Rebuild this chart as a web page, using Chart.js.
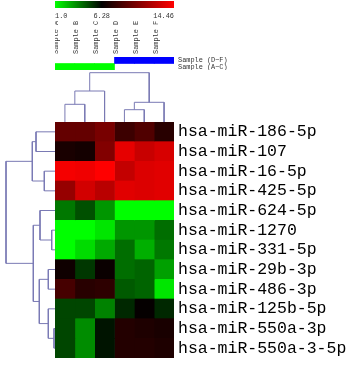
<!DOCTYPE html>
<html><head><meta charset="utf-8">
<script src="https://cdn.jsdelivr.net/npm/chart.js@4/dist/chart.umd.min.js"></script>
<style>
html,body{margin:0;padding:0;background:#fff;}
#wrap{position:relative;width:356px;height:371px;overflow:hidden;background:#fff;}
canvas{position:absolute;}
</style></head><body>
<div id="wrap">
<canvas id="cbar" width="119" height="20" style="left:55px;top:1px"></canvas>
<canvas id="grp" width="301" height="62" style="left:55px;top:8px"></canvas>
<canvas id="cden" width="119" height="52" style="left:55px;top:70px"></canvas>
<canvas id="rden" width="55" height="236" style="left:0px;top:122px"></canvas>
<canvas id="heat" width="301" height="236" style="left:55px;top:122px"></canvas>
</div>
<script>
// ---- data ----
const samples = ["Sample A","Sample B","Sample C","Sample D","Sample E","Sample F"];
const mirnas = ["hsa-miR-186-5p","hsa-miR-107","hsa-miR-16-5p","hsa-miR-425-5p","hsa-miR-624-5p","hsa-miR-1270","hsa-miR-331-5p","hsa-miR-29b-3p","hsa-miR-486-3p","hsa-miR-125b-5p","hsa-miR-550a-3p","hsa-miR-550a-3-5p"];
// expression values, one array per sample (columns), rows in miRNA order
const sampleA = [9.49, 7.08,14.14,11.09,3.80,1.00,1.00,6.76,8.53,4.83,4.83,4.83];
const sampleB = [9.49, 6.92,13.98,13.02,4.62,1.00,1.72,5.14,7.56,4.83,3.38,3.38];
const sampleC = [10.13,10.45,14.46,12.21,3.17,1.52,2.76,6.60,7.72,3.59,5.87,5.87];
const sampleD = [8.20,13.66,12.54,13.50,1.00,3.17,4.00,4.00,4.42,5.45,7.40,7.40];
const sampleE = [8.85,12.70,13.34,13.34,1.00,3.17,2.66,4.21,4.21,6.44,7.24,7.40];
const sampleF = [7.56,13.18,13.50,13.50,1.00,4.00,3.80,2.97,1.52,5.45,7.08,7.24];
const colorTicks = [1.0, 6.28, 14.46];
const colorTickLabels = ["1.0","6.28","14.46"];
const groupLabels = ["Sample (D~F)","Sample (A~C)"];
const groupOfSample = [1,1,1,0,0,0]; // index into groupLabels
// dendrograms: [childA, childB, height]; indices >= leaf count refer to earlier merges
const colMerges = [[0,1,17.7],[3,4,12.3],[6,2,31.0],[7,5,19.7],[8,9,49.3]];
const rowMerges = [[10,11,1.0],[5,6,3.3],[7,8,6.7],[9,12,6.7],[2,3,10.7],[4,13,15.0],[14,15,15.7],[0,1,19.0],[17,18,21.7],[19,16,22.7],[21,20,49.0]];

// ---- helpers ----
const [vMin, vMid, vMax] = colorTicks;
function valColor(v){
  if (v <= vMid){ const g = Math.round(255*(vMid - v)/(vMid - vMin)); return `rgb(0,${g},0)`; }
  const r = Math.round(255*(v - vMid)/(vMax - vMid)); return `rgb(${r},0,0)`;
}
const LINE = '#7a7ab4';
const smallFont = {family:'Liberation Mono', size:6.9};
const common = {responsive:false, animation:false, devicePixelRatio:1, layout:{padding:0},
  plugins:{legend:{display:false}, tooltip:{enabled:false}}, events:[]};
function fixV(w){ return function(s){ s.width = w; s.paddingTop = 0; s.paddingBottom = 0; }; }
function fixH(h){ return function(s){ s.height = h; s.paddingLeft = 0; s.paddingRight = 0; }; }
function dendroLinks(merges, n){
  const pos = [], hgt = [];
  for (let i=0;i<n;i++){ pos.push(i+0.5); hgt.push(0); }
  const links = [];
  merges.forEach(([a,b,h])=>{
    links.push({pa:pos[a], ha:hgt[a], pb:pos[b], hb:hgt[b], h:h});
    pos.push((pos[a]+pos[b])/2); hgt.push(h);
  });
  return links;
}

// ---- color bar ----
new Chart(document.getElementById('cbar'), {
  type:'bar',
  data:{labels:['scale'], datasets:[{data:[[vMin,vMax]], borderWidth:0, barPercentage:1, categoryPercentage:1,
    backgroundColor:(ctx)=>{
      const ch = ctx.chart, ca = ch.chartArea; if(!ca) return '#000';
      const xs = ch.scales.x;
      const g = ch.ctx.createLinearGradient(xs.getPixelForValue(vMin),0,xs.getPixelForValue(vMax),0);
      g.addColorStop(0, valColor(vMin));
      g.addColorStop((vMid-vMin)/(vMax-vMin), valColor(vMid));
      g.addColorStop(1, valColor(vMax));
      return g;
    }}]},
  options:{...common, indexAxis:'y',
    scales:{
      y:{display:false},
      x:{type:'linear', min:vMin, max:vMax, border:{display:false}, grid:{display:false, drawTicks:false},
        afterBuildTicks:(s)=>{ s.ticks = colorTicks.map(v=>({value:v})); },
        afterFit:fixH(13),
        ticks:{align:'inner', autoSkip:false, padding:4, color:'#333', font:smallFont, maxRotation:0,
          callback:(v,i)=>colorTickLabels[i]}}
    }}
});

// ---- sample labels + group bars ----
const groupColors = ['#0000ff','#00ff00'];
new Chart(document.getElementById('grp'), {
  type:'bar',
  data:{labels:samples, datasets:[{
    data:groupOfSample.map(g=> g===0 ? [1,2] : [0,1]),
    backgroundColor:groupOfSample.map(g=>groupColors[g]),
    borderWidth:0, barPercentage:1, categoryPercentage:1}]},
  options:{...common,
    scales:{
      x:{position:'top', border:{display:false}, grid:{display:false, drawTicks:false},
        afterFit:fixH(49),
        ticks:{minRotation:90, maxRotation:90, autoSkip:false, padding:3, color:'#333', font:smallFont}},
      y:{type:'linear', position:'right', min:0, max:2, border:{display:false}, grid:{display:false, drawTicks:false},
        afterBuildTicks:(s)=>{ s.ticks = [{value:1.5},{value:0.5}]; },
        afterFit:fixV(182),
        ticks:{autoSkip:false, padding:4, color:'#333', font:smallFont,
          callback:(v)=> v>1 ? groupLabels[0] : groupLabels[1]}}
    }}
});

// ---- column dendrogram ----
const colLinks = dendroLinks(colMerges, samples.length);
new Chart(document.getElementById('cden'), {
  type:'scatter',
  data:{datasets:colLinks.map(l=>({
    data:[{x:l.pa,y:l.ha},{x:l.pa,y:l.h},{x:l.pb,y:l.h},{x:l.pb,y:l.hb}],
    showLine:true, borderColor:LINE, borderWidth:1, pointRadius:0, fill:false, clip:false, tension:0}))},
  options:{...common,
    scales:{x:{type:'linear', min:0, max:samples.length, display:false},
            y:{type:'linear', min:0, max:52, display:false}}}
});

// ---- row dendrogram ----
const rowLinks = dendroLinks(rowMerges, mirnas.length);
new Chart(document.getElementById('rden'), {
  type:'scatter',
  data:{datasets:rowLinks.map(l=>({
    data:[{x:l.ha,y:l.pa},{x:l.h,y:l.pa},{x:l.h,y:l.pb},{x:l.hb,y:l.pb}],
    showLine:true, borderColor:LINE, borderWidth:1, pointRadius:0, fill:false, clip:false, tension:0}))},
  options:{...common,
    scales:{x:{type:'linear', min:0, max:55, reverse:true, display:false},
            y:{type:'linear', min:0, max:mirnas.length, reverse:true, display:false}}}
});

// ---- heatmap ----
const cols = [sampleA,sampleB,sampleC,sampleD,sampleE,sampleF];
new Chart(document.getElementById('heat'), {
  type:'bar',
  data:{labels:mirnas, datasets:cols.map((vals,i)=>({
    label:samples[i], data:vals.map(()=>1), backgroundColor:vals.map(valColor),
    borderWidth:0, barPercentage:1, categoryPercentage:1}))},
  options:{...common, indexAxis:'y',
    scales:{
      x:{type:'linear', stacked:true, min:0, max:samples.length, display:false},
      y:{stacked:true, position:'right', border:{display:false}, grid:{display:false, drawTicks:false},
        afterFit:fixV(182),
        ticks:{autoSkip:false, padding:4, color:'#000', font:{family:'Liberation Mono', size:16.5}}}
    }}
});
</script>
</body></html>
